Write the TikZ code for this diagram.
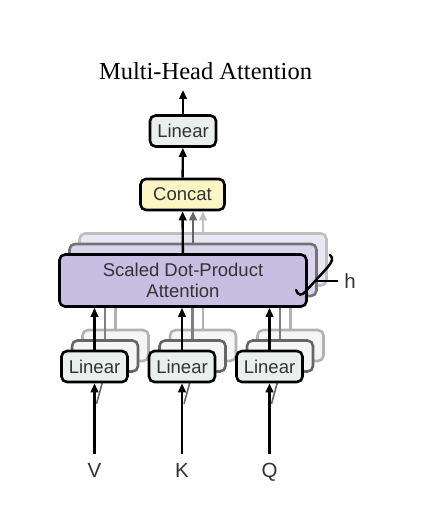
\documentclass[tikz,border=0pt]{standalone}
\usepackage{fontspec}
\setmainfont{Liberation Serif}
\setsansfont{Liberation Sans}
\usetikzlibrary{positioning,arrows.meta,calc}
\definecolor{linfill}{RGB}{233,239,236}
\definecolor{catfill}{RGB}{251,245,196}
\definecolor{attfill}{RGB}{199,191,225}
\definecolor{attfillb}{RGB}{218,213,236}
\definecolor{attfillc}{RGB}{234,231,244}
\begin{document}
\begin{tikzpicture}[x=1pt, y=-1pt,
            box/.style={rectangle, draw, line width=2.6pt, rounded corners=5.5pt, inner sep=0pt, text=black!80, font=\sffamily\fontsize{18.5}{21}\selectfont},
            lin/.style={box, fill=linfill, minimum width=66pt, minimum height=31pt},
            linback/.style={lin, draw=#1, fill=white!96!black},
            att/.style={box, fill=attfill, minimum width=247pt, minimum height=52pt, align=center},
            attback/.style={att, draw=#1},
            cat/.style={box, fill=catfill, minimum width=84pt, minimum height=31pt},
            inp/.style={inner sep=0pt, inner ysep=9pt, text height=14pt, text depth=0pt, text=black!80, font=\sffamily\fontsize{20.5}{20.5}\selectfont},
            arrow/.style={-{Triangle[length=9pt, width=7.5pt]}, line width=2.4pt},
            ghost/.style={line width=2.4pt, draw=#1}
        ]
            \useasboundingbox (0,0) rectangle (421,513);
            \node[anchor=base, font=\fontsize{24.5}{24.5}\selectfont] (title) at (205.5,80) {Multi-Head Attention};
            \coordinate (out) at (183,90);
            \node[lin] (lino) at (183,131) {Linear};
            \node[cat] (concat) at (182.5,194.5) {Concat};
            \node[attback=black!25, fill=attfillc] (att3) at (203,259.5) {};
            \node[attback=black!55, fill=attfillb] (att2) at (193,270) {};
            \draw[arrow, draw=black!25, fill=black!25] (att3.north) -- (att3.north |- concat.south);
            \draw[arrow, draw=black!60, fill=black!60] (att2.north) -- (att2.north |- concat.south);
            \node[att] (att) at (183,280.5) {Scaled Dot-Product\\Attention};
            \draw[arrow] (att) -- (concat);
            \draw[arrow] (concat) -- (lino);
            \draw[arrow] (lino) -- (out);
            % h brace
            \coordinate (hmid) at (316,281);
            \node[inp, inner ysep=0pt, inner xsep=6pt] (hlab) at (350,281) {h};
            \draw[line width=2.4pt, line cap=round] (296,290) .. controls (298,296) and (302,296) .. (306,291) -- (316,280) -- (327,268) .. controls (332,262) and (334,258) .. (330,255);
            \draw[line width=1.5pt] (hmid) -- (hlab);
            % inputs
            \node[inp] (v) at (94.5,470) {V};
            \node[inp] (k) at (182,470) {K};
            \node[inp] (q) at (269.5,470) {Q};
            \node[linback=black!30] (lin1c) at (115.5,345.5) {};
            \node[linback=black!60] (lin1b) at (105,356) {};
            \node[linback=black!30] (lin2c) at (203,345.5) {};
            \node[linback=black!60] (lin2b) at (192.5,356) {};
            \node[linback=black!30] (lin3c) at (290.5,345.5) {};
            \node[linback=black!60] (lin3b) at (280,356) {};
            \draw[ghost=black!30] (lin1c.north) -- (lin1c.north |- att.south);
            \draw[ghost=black!50] (lin1b.north) -- (lin1b.north |- att.south);
            \draw[ghost=black!30] (lin2c.north) -- (lin2c.north |- att.south);
            \draw[ghost=black!50] (lin2b.north) -- (lin2b.north |- att.south);
            \draw[ghost=black!30] (lin3c.north) -- (lin3c.north |- att.south);
            \draw[ghost=black!50] (lin3b.north) -- (lin3b.north |- att.south);
            \draw[ghost=black!60, line width=1.6pt] ($(v.north)+(2,-50)$) -- (lin1b.south);
            \draw[ghost=black!60, line width=1.6pt] ($(k.north)+(2,-50)$) -- (lin2b.south);
            \draw[ghost=black!60, line width=1.6pt] ($(q.north)+(2,-50)$) -- (lin3b.south);
            \node[lin] (lin1) at (94.5,366.5) {Linear};
            \node[lin] (lin2) at (182,366.5) {Linear};
            \node[lin] (lin3) at (269.5,366.5) {Linear};
            \draw[arrow] (v) -- (lin1);
            \draw[arrow] (k) -- (lin2);
            \draw[arrow] (q) -- (lin3);
            \draw[arrow] (lin1) -- (lin1 |- att.south);
            \draw[arrow] (lin2) -- (lin2 |- att.south);
            \draw[arrow] (lin3) -- (lin3 |- att.south);
        \end{tikzpicture}
\end{document}
